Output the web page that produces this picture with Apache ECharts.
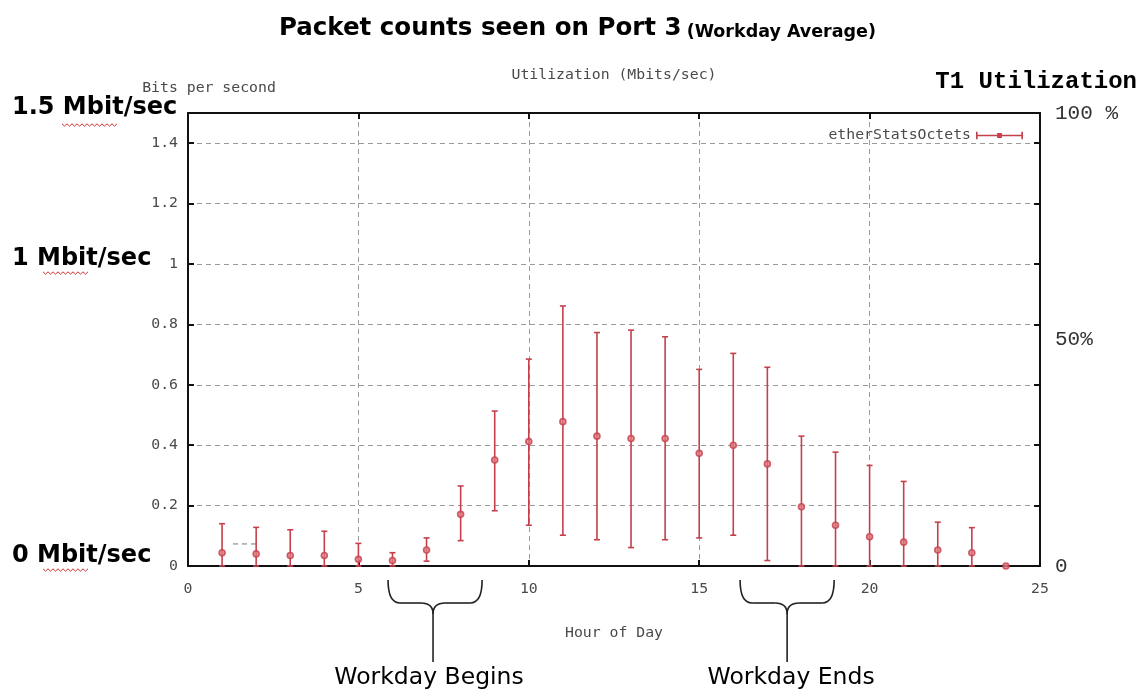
<!DOCTYPE html>
<html>
<head>
<meta charset="utf-8">
<script src="https://cdn.jsdelivr.net/npm/echarts@6/dist/echarts.min.js"></script>
<style>
html,body{margin:0;padding:0;background:#fff;}
#chart{width:1141px;height:692px;}
</style>
</head>
<body>
<div id="chart"></div>
<script>
// ---- data ----
const hours = [1,2,3,4,5,6,7,8,9,10,11,12,13,14,15,16,17,18,19,20,21,22,23,24];
const means = [0.044,0.040,0.035,0.035,0.022,0.018,0.053,0.171,0.351,0.412,0.478,0.430,0.422,0.422,0.373,0.400,0.338,0.196,0.135,0.097,0.079,0.053,0.044,0.0];
const lows  = [0,0,0,0,0,0,0.016,0.084,0.183,0.135,0.102,0.087,0.061,0.087,0.093,0.102,0.018,0,0,0,0,0,0,0];
const highs = [0.140,0.128,0.120,0.115,0.075,0.044,0.093,0.265,0.513,0.685,0.861,0.773,0.781,0.759,0.651,0.704,0.658,0.430,0.377,0.333,0.280,0.145,0.127,0];
const strayX = [1.32, 2.05];
const strayY = [0.073, 0.073];
const pctLabels = {0:'0', 50:'50%', 100:'100 %'};
const leftAnnotations = ['1.5 Mbit/sec', '1 Mbit/sec', '0 Mbit/sec'];
const beginsBrace = [5.87, 7.19, 8.63];
const endsBrace = [16.2, 17.58, 18.96];

// ---- styles ----
const RED = '#c4404c';
const MONO = '"DejaVu Sans Mono", "Liberation Mono", monospace';
const GRAY = '#4a4a4a';

const chart = echarts.init(document.getElementById('chart'));

const barData = hours.map((h,i)=>[h, lows[i], highs[i]]);
const pointData = hours.map((h,i)=>[h, means[i]]);

function renderErr(params, api){
  const x = api.value(0), lo = api.value(1), hi = api.value(2);
  if (hi <= lo) return null;
  const pLo = api.coord([x, lo]);
  const pHi = api.coord([x, hi]);
  const w = 3;
  const st = {stroke: RED, lineWidth: 1.6};
  return {type:'group', children:[
    {type:'line', shape:{x1:pLo[0], y1:pLo[1], x2:pHi[0], y2:pHi[1]}, style:st},
    {type:'line', shape:{x1:pHi[0]-w, y1:pHi[1], x2:pHi[0]+w, y2:pHi[1]}, style:st},
    {type:'line', shape:{x1:pLo[0]-w, y1:pLo[1], x2:pLo[0]+w, y2:pLo[1]}, style:st}
  ]};
}

const tickStyle = {show:true, inside:true, length:6, lineStyle:{color:'#111', width:2}};
const lineStyleAxis = {show:true, onZero:false, lineStyle:{color:'#111', width:2}};
const splitStyle = {show:true, showMinLine:false, showMaxLine:false, lineStyle:{color:'#9a9a9a', type:[5,4], width:1}};

const option = {
  animation:false,
  backgroundColor:'#fff',
  title:{
    text:'{a|Packet counts seen on Port 3} {b|(Workday Average)}',
    left:274, top:6,
    textStyle:{
      rich:{
        a:{fontFamily:'"DejaVu Sans", sans-serif', fontWeight:'bold', fontSize:24.5, color:'#000', verticalAlign:'bottom', lineHeight:30},
        b:{fontFamily:'"DejaVu Sans", sans-serif', fontWeight:'bold', fontSize:17.5, color:'#000', verticalAlign:'bottom', lineHeight:30}
      }
    }
  },
  legend:{
    data:[{name:'etherStatsOctets', icon:'path://M0,4h40v1.4h-40z M0,1.5h1.4v6.4h-1.4z M38.6,1.5h1.4v6.4h-1.4z M18,2.6h4v4.2h-4z'}],
    right:113, top:123, align:'right',
    itemWidth:47, itemHeight:8, itemGap:10,
    textStyle:{fontFamily:MONO, fontSize:14.8, color:GRAY}
  },
  grid:{left:188, right:101, top:113, bottom:126},
  xAxis:[
    {type:'value', min:0, max:25, interval:5, position:'bottom',
     axisLine:lineStyleAxis, axisTick:tickStyle,
     axisLabel:{color:GRAY, fontFamily:MONO, fontSize:14.8, margin:16},
     splitLine:splitStyle,
     name:'Hour of Day', nameLocation:'middle', nameGap:60,
     nameTextStyle:{color:GRAY, fontFamily:MONO, fontSize:14.8}},
    {type:'value', min:0, max:25, interval:5, position:'top',
     axisLine:lineStyleAxis, axisTick:tickStyle, axisLabel:{show:false}, splitLine:{show:false}}
  ],
  yAxis:[
    {type:'value', min:0, max:1.5, interval:0.2, position:'left',
     axisLine:lineStyleAxis, axisTick:tickStyle,
     axisLabel:{color:GRAY, fontFamily:MONO, fontSize:14.8, margin:10, showMaxLabel:false,
       formatter:v=>String(Math.round(v*10)/10)},
     splitLine:splitStyle},
    {type:'value', min:0, max:1.5, interval:0.2, position:'right',
     axisLine:lineStyleAxis, axisTick:tickStyle, axisLabel:{show:false}, splitLine:{show:false}},
    {type:'value', min:0, max:100, interval:50, position:'right',
     axisLine:{show:false, onZero:false}, axisTick:{show:false}, splitLine:{show:false},
     axisLabel:{color:'#333', fontFamily:'"Liberation Mono", monospace', fontSize:21, margin:15,
       formatter:v=>pctLabels[v]!==undefined?pctLabels[v]:''}}
  ],
  series:[
    {name:'stray', type:'line', data:strayX.map((x,i)=>[x,strayY[i]]), showSymbol:false, symbol:'none',
     lineStyle:{color:'#777', type:[5,4], width:1}, silent:true, z:1},
    {name:'etherStatsOctets', type:'custom', renderItem:renderErr, data:barData,
     itemStyle:{color:RED}, encode:{x:0, y:[1,2]}, z:3},
    {name:'etherStatsOctets', type:'scatter', data:pointData, symbol:'circle', symbolSize:6,
     itemStyle:{color:'#e07880', borderColor:RED, borderWidth:1.6}, z:4}
  ]
};
chart.setOption(option);

// ---- annotations placed through the axes ----
function brace(xs){
  const L = chart.convertToPixel({xAxisIndex:0}, xs[0]);
  const C = chart.convertToPixel({xAxisIndex:0}, xs[1]);
  const R = chart.convertToPixel({xAxisIndex:0}, xs[2]);
  const y0 = 580, y1 = 603, yc = 614, yb = 662;
  const st = {stroke:'#222', lineWidth:1.6, fill:null};
  return {C, els:[
    {type:'bezierCurve', shape:{x1:L, y1:y0, x2:L+12, y2:y1, cpx1:L, cpy1:y1}, style:st},
    {type:'line', shape:{x1:L+12, y1:y1, x2:C-12, y2:y1}, style:st},
    {type:'bezierCurve', shape:{x1:C-12, y1:y1, x2:C, y2:yc, cpx1:C, cpy1:y1}, style:st},
    {type:'bezierCurve', shape:{x1:C+12, y1:y1, x2:C, y2:yc, cpx1:C, cpy1:y1}, style:st},
    {type:'line', shape:{x1:C, y1:yc, x2:C, y2:yb}, style:st},
    {type:'line', shape:{x1:C+12, y1:y1, x2:R-12, y2:y1}, style:st},
    {type:'bezierCurve', shape:{x1:R-12, y1:y1, x2:R, y2:y0, cpx1:R, cpy1:y1}, style:st}
  ]};
}
function squiggle(x0, x1, y){
  const pts = [];
  let up = true;
  for (let x = x0; x <= x1; x += 2.5){ pts.push([x, up ? y-1.2 : y+1.2]); up = !up; }
  return pts;
}
const b1 = brace(beginsBrace), b2 = brace(endsBrace);
const graphics = [].concat(b1.els, b2.els, [
  {type:'text', x:b1.C-4, y:678, style:{text:'Workday Begins', fill:'#000', font:'23.5px "DejaVu Sans", sans-serif', textAlign:'center', textVerticalAlign:'middle'}},
  {type:'text', x:b2.C+4, y:678, style:{text:'Workday Ends', fill:'#000', font:'23.5px "DejaVu Sans", sans-serif', textAlign:'center', textVerticalAlign:'middle'}},
  {type:'text', x:209, y:88, style:{text:'Bits per second', fill:GRAY, font:'14.8px "DejaVu Sans Mono", monospace', textAlign:'center', textVerticalAlign:'middle'}},
  {type:'text', x:614, y:75, style:{text:'Utilization (Mbits/sec)', fill:GRAY, font:'14.8px "DejaVu Sans Mono", monospace', textAlign:'center', textVerticalAlign:'middle'}},
  {type:'text', x:1137, y:82, style:{text:'T1 Utilization', fill:'#000', font:'bold 24px "Liberation Mono", monospace', textAlign:'right', textVerticalAlign:'middle'}}
]);
const annY = [108, 259, 556];
leftAnnotations.forEach((t,i)=>{
  graphics.push({type:'text', x:12, y:annY[i], style:{text:t, fill:'#000', font:'bold 24px "DejaVu Sans", sans-serif', textAlign:'left', textVerticalAlign:'middle'}});
});
const sq = [[62,117,125],[43,90,273],[43,90,570]];
sq.forEach(s=>{
  graphics.push({type:'polyline', shape:{points:squiggle(s[0], s[1], s[2])}, style:{stroke:'#d03030', lineWidth:1, fill:null}});
});
chart.setOption({graphic:graphics});
</script>
</body>
</html>
